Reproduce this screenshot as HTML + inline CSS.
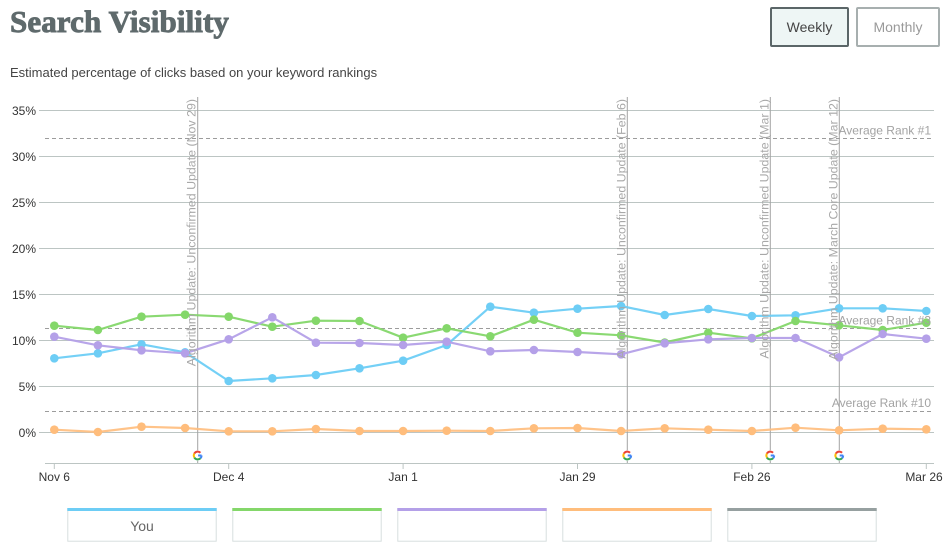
<!DOCTYPE html>
<html>
<head>
<meta charset="utf-8">
<style>
  html,body{margin:0;padding:0;background:#fff;}
  body{width:947px;height:553px;position:relative;overflow:hidden;font-family:"Liberation Sans",sans-serif;}
  .title{position:absolute;left:10px;top:4px;font-family:"Liberation Serif",serif;font-weight:bold;font-size:31px;color:#5f6a6c;letter-spacing:0.1px;white-space:nowrap;-webkit-text-stroke:0.9px #5f6a6c;}
  .sub{position:absolute;left:10px;top:65px;font-size:13px;color:#444;white-space:nowrap;}
  .btn{position:absolute;top:7px;height:36px;box-sizing:border-box;border-radius:2px;font-size:14px;display:flex;align-items:center;justify-content:center;}
  .weekly{left:770px;width:79px;height:40px;border:2px solid #5b6668;background:#eef6f5;color:#444;}
  .monthly{left:856px;width:84px;height:40px;border:2px solid #a7afaf;background:#fff;color:#9a9a9a;}
  svg{position:absolute;left:0;top:0;}
</style>
</head>
<body>
<div class="title">Search Visibility</div>
<div class="sub">Estimated percentage of clicks based on your keyword rankings</div>
<div class="btn weekly">Weekly</div>
<div class="btn monthly">Monthly</div>

<svg width="947" height="553" viewBox="0 0 947 553" xmlns="http://www.w3.org/2000/svg">
  <defs>
    <marker id="mb" markerWidth="12" markerHeight="12" refX="6" refY="6" markerUnits="userSpaceOnUse"><circle cx="6" cy="6" r="4.3" fill="#6dcdf5"/></marker>
    <marker id="mg" markerWidth="12" markerHeight="12" refX="6" refY="6" markerUnits="userSpaceOnUse"><circle cx="6" cy="6" r="4.3" fill="#84d76a"/></marker>
    <marker id="mp" markerWidth="12" markerHeight="12" refX="6" refY="6" markerUnits="userSpaceOnUse"><circle cx="6" cy="6" r="4.3" fill="#b4a0e8"/></marker>
    <marker id="mo" markerWidth="12" markerHeight="12" refX="6" refY="6" markerUnits="userSpaceOnUse"><circle cx="6" cy="6" r="4.3" fill="#ffbd7c"/></marker>
    <g id="gicon">
      <circle cx="0" cy="0" r="5.2" fill="#fff"/>
      <path d="M0.4,0 H3.9" stroke="#4285f4" stroke-width="2" fill="none"/>
      <path d="M3.9,0 A3.9,3.9 0 0 1 2.76,2.76" stroke="#4285f4" stroke-width="2" fill="none"/>
      <path d="M2.76,2.76 A3.9,3.9 0 0 1 -3.38,1.95" stroke="#34a853" stroke-width="2" fill="none"/>
      <path d="M-3.38,1.95 A3.9,3.9 0 0 1 -3.38,-1.95" stroke="#fbbc05" stroke-width="2" fill="none"/>
      <path d="M-3.38,-1.95 A3.9,3.9 0 0 1 2.76,-2.76" stroke="#ea4335" stroke-width="2" fill="none"/>
    </g>
  </defs>

  <!-- grid -->
  <g stroke="#bcc5c3" stroke-width="1">
    <line x1="39" y1="110.5" x2="934" y2="110.5"/>
    <line x1="39" y1="156.5" x2="934" y2="156.5"/>
    <line x1="39" y1="202.5" x2="934" y2="202.5"/>
    <line x1="39" y1="248.5" x2="934" y2="248.5"/>
    <line x1="39" y1="294.5" x2="934" y2="294.5"/>
    <line x1="39" y1="340.5" x2="934" y2="340.5"/>
    <line x1="39" y1="386.5" x2="934" y2="386.5"/>
    <line x1="39" y1="432.5" x2="934" y2="432.5"/>
    <line x1="45" y1="463.5" x2="934" y2="463.5"/>
    <line x1="54.3" y1="463" x2="54.3" y2="469"/>
    <line x1="228.7" y1="463" x2="228.7" y2="469"/>
    <line x1="403.1" y1="463" x2="403.1" y2="469"/>
    <line x1="577.5" y1="463" x2="577.5" y2="469"/>
    <line x1="751.9" y1="463" x2="751.9" y2="469"/>
    <line x1="926.3" y1="463" x2="926.3" y2="469"/>
  </g>

  <!-- y labels -->
  <g font-family="Liberation Sans, sans-serif" font-size="12" fill="#333" text-anchor="end">
    <text x="36" y="115">35%</text>
    <text x="36" y="161">30%</text>
    <text x="36" y="207">25%</text>
    <text x="36" y="253">20%</text>
    <text x="36" y="299">15%</text>
    <text x="36" y="345">10%</text>
    <text x="36" y="391">5%</text>
    <text x="36" y="437">0%</text>
  </g>

  <!-- x labels -->
  <g font-family="Liberation Sans, sans-serif" font-size="12" fill="#333" text-anchor="middle">
    <text x="54.3" y="481">Nov 6</text>
    <text x="228.7" y="481">Dec 4</text>
    <text x="403.1" y="481">Jan 1</text>
    <text x="577.5" y="481">Jan 29</text>
    <text x="751.9" y="481">Feb 26</text>
    <text x="924" y="481">Mar 26</text>
  </g>

  <!-- dashed average rank lines -->
  <g stroke="#9c9c9c" stroke-width="1" stroke-dasharray="4,3">
    <line x1="45" y1="138.5" x2="934" y2="138.5"/>
    <line x1="45" y1="328.5" x2="934" y2="328.5"/>
    <line x1="45" y1="411.5" x2="934" y2="411.5"/>
  </g>

  <!-- annotation lines -->
  <g stroke="#a3a3a3" stroke-width="1">
    <line x1="197.7" y1="97" x2="197.7" y2="463"/>
    <line x1="627.3" y1="97" x2="627.3" y2="463"/>
    <line x1="770.3" y1="97" x2="770.3" y2="463"/>
    <line x1="839.3" y1="97" x2="839.3" y2="463"/>
  </g>

  <!-- series -->
  <g fill="none" stroke-width="2.2" stroke-linejoin="round">
    <polyline stroke="#ffbd7c" stroke-opacity="0.9" marker-start="url(#mo)" marker-mid="url(#mo)" marker-end="url(#mo)"
      points="54.3,429.7 97.9,432 141.5,426.7 185.1,428 228.7,431.3 272.3,431.3 315.9,429 359.5,431 403.1,431 446.7,430.7 490.3,431 533.9,428.3 577.5,428 621.1,431 664.7,428.3 708.3,429.7 751.9,431 795.5,427.7 839.1,430.3 882.7,428.7 926.3,429.3"/>
    <polyline stroke="#6dcdf5" stroke-opacity="0.95" marker-start="url(#mb)" marker-mid="url(#mb)" marker-end="url(#mb)"
      points="54.3,358.3 97.9,353.3 141.5,344.3 185.1,352.3 228.7,381 272.3,378.3 315.9,375 359.5,368.3 403.1,360.7 446.7,345 490.3,306.7 533.9,312.7 577.5,308.7 621.1,306 664.7,315 708.3,309 751.9,316 795.5,315.3 839.1,308.3 882.7,308.3 926.3,311"/>
    <polyline stroke="#84d76a" stroke-opacity="0.95" marker-start="url(#mg)" marker-mid="url(#mg)" marker-end="url(#mg)"
      points="54.3,325.7 97.9,330 141.5,316.7 185.1,314.7 228.7,316.7 272.3,326.7 315.9,320.7 359.5,321 403.1,337.7 446.7,328.3 490.3,336.3 533.9,319.7 577.5,332.7 621.1,335.3 664.7,342.5 708.3,332.7 751.9,338.3 795.5,321 839.1,325.3 882.7,330 926.3,322.7"/>
    <polyline stroke="#b4a0e8" stroke-opacity="0.95" marker-start="url(#mp)" marker-mid="url(#mp)" marker-end="url(#mp)"
      points="54.3,336.7 97.9,345.3 141.5,350.3 185.1,353.3 228.7,339.3 272.3,317.3 315.9,342.7 359.5,343 403.1,345 446.7,341.7 490.3,351.3 533.9,350 577.5,352 621.1,354.3 664.7,343.3 708.3,339.3 751.9,338 795.5,338 839.1,357.3 882.7,334 926.3,338.7"/>
  </g>

  <!-- annotation text -->
  <g font-family="Liberation Sans, sans-serif" font-size="12.4" fill="#a8a8a8" text-anchor="end">
    <text transform="translate(195.7,99) rotate(-90)">Algorithm Update: Unconfirmed Update (Nov 29)</text>
    <text transform="translate(625.3,99) rotate(-90)">Algorithm Update: Unconfirmed Update (Feb 6)</text>
    <text transform="translate(768.3,99) rotate(-90)">Algorithm Update: Unconfirmed Update (Mar 1)</text>
    <text transform="translate(837.3,99) rotate(-90)">Algorithm Update: March Core Update (Mar 12)</text>
  </g>

  <!-- rank labels -->
  <g font-family="Liberation Sans, sans-serif" font-size="12" fill="#a3a3a3" text-anchor="end">
    <text x="931" y="134.5">Average Rank #1</text>
    <text x="931" y="324.5">Average Rank #3</text>
    <text x="931" y="407">Average Rank #10</text>
  </g>

  <!-- google icons -->
  <use href="#gicon" x="197.7" y="455.5"/>
  <use href="#gicon" x="627.3" y="455.5"/>
  <use href="#gicon" x="770.3" y="455.5"/>
  <use href="#gicon" x="839.3" y="455.5"/>

  <!-- legend -->
  <g>
    <rect x="67.8" y="508.8" width="148.4" height="32.4" fill="#fff" stroke="#d7dfdf" stroke-width="1"/>
    <rect x="67.3" y="508" width="149.4" height="3" fill="#6dcdf5"/>
    <rect x="232.8" y="508.8" width="148.4" height="32.4" fill="#fff" stroke="#d7dfdf" stroke-width="1"/>
    <rect x="232.3" y="508" width="149.4" height="3" fill="#84d76a"/>
    <rect x="397.8" y="508.8" width="148.4" height="32.4" fill="#fff" stroke="#d7dfdf" stroke-width="1"/>
    <rect x="397.3" y="508" width="149.4" height="3" fill="#b4a0e8"/>
    <rect x="562.8" y="508.8" width="148.4" height="32.4" fill="#fff" stroke="#d7dfdf" stroke-width="1"/>
    <rect x="562.3" y="508" width="149.4" height="3" fill="#ffbd7c"/>
    <rect x="727.8" y="508.8" width="148.4" height="32.4" fill="#fff" stroke="#d7dfdf" stroke-width="1"/>
    <rect x="727.3" y="508" width="149.4" height="3" fill="#96a0a0"/>
    <text x="142" y="531" font-family="Liberation Sans, sans-serif" font-size="14" fill="#666" text-anchor="middle">You</text>
  </g>
</svg>
</body>
</html>
